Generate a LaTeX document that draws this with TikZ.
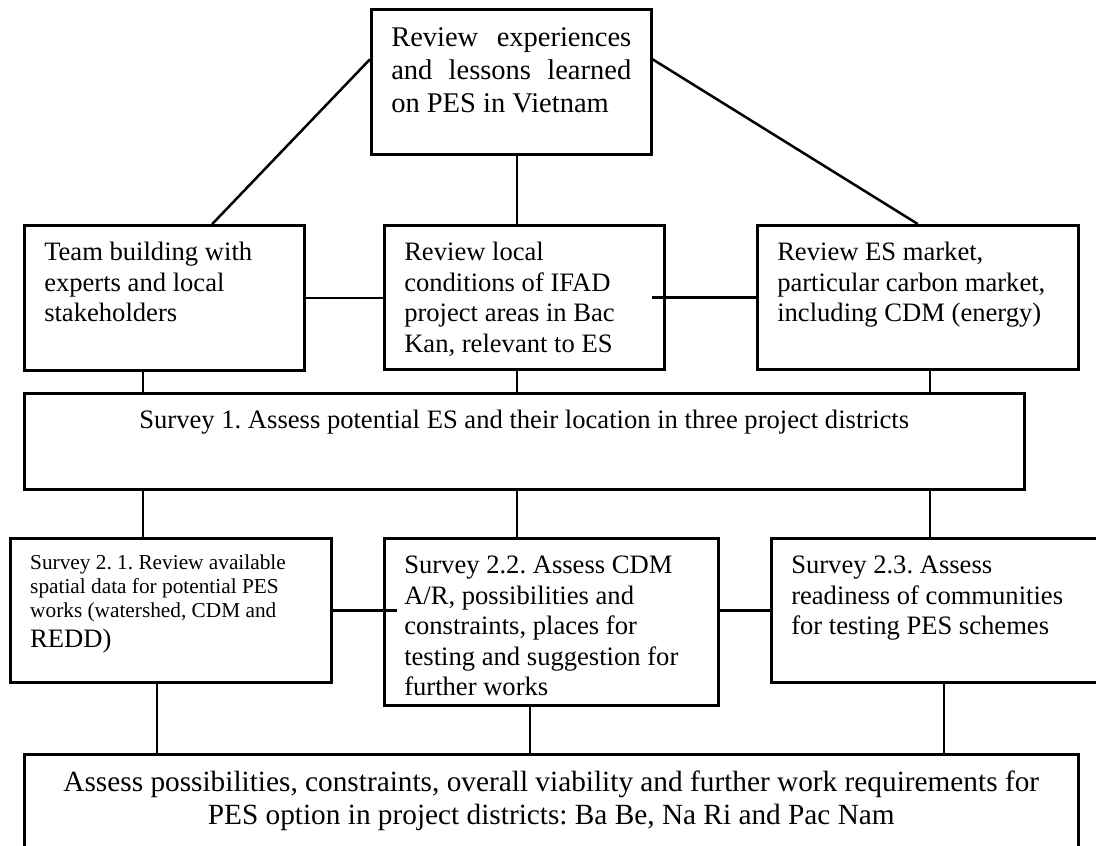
\documentclass[tikz,border=0pt]{standalone}
\usepackage{fontspec}
\setmainfont{Liberation Serif}
\frenchspacing
\newcommand{\boxtext}[3]{\parbox[c][#2][t]{#1}{\raggedright\strut #3}}
\begin{document}
\begin{tikzpicture}[x=1pt,y=-1pt,
    stage/.style={draw, line width=2.5pt, anchor=north west, inner xsep=20pt, inner ysep=14pt, font=\fontsize{26.6}{30.5}\selectfont},
    link/.style={line width=2.5pt}]
        \useasboundingbox (0,0) rectangle (1096,846);
        \clip (0,0) rectangle (1096,846);
        % top
        \node[stage, font=\fontsize{28.5}{33}\selectfont] (review) at (370,8) {\boxtext{240pt}{117pt}{\makebox[\linewidth][s]{Review experiences}\\ \makebox[\linewidth][s]{and lessons learned}\\ on PES in Vietnam}};
        % first row
        \node[stage] (team) at (23,224) {\boxtext{240pt}{117pt}{Team building with\\ experts and local\\ stakeholders}};
        \node[stage] (local) at (383,224) {\boxtext{240pt}{116pt}{Review local\\ conditions of IFAD\\ project areas in Bac\\ Kan, relevant to ES}};
        \node[stage] (market) at (756,224) {\boxtext{281pt}{116pt}{Review ES market,\\ particular carbon market,\\ including CDM (energy)}};
        \node[stage] (survey) at (23,392) {\boxtext{960pt}{68pt}{\centering Survey 1. Assess potential ES and their location in three project districts}};
        % second row
        \node[stage, font=\fontsize{21.3}{24}\selectfont] (spatial) at (9,537) {\boxtext{281pt}{116pt}{Survey 2. 1. Review available\\ spatial data for potential PES\\ works (watershed, CDM and\\[6pt] {\fontsize{26.6}{30.5}\selectfont REDD)}}};
        \node[stage] (cdm) at (383,537) {\boxtext{294pt}{139pt}{Survey 2.2. Assess CDM\\ A/R, possibilities and\\ constraints, places for\\ testing and suggestion for\\ further works}};
        \node[stage] (ready) at (770,537) {\boxtext{300pt}{116pt}{Survey 2.3. Assess\\ readiness of communities\\ for testing PES schemes}};
        \node[stage, font=\fontsize{29.3}{33}\selectfont] (assess) at (23,753) {\boxtext{1014pt}{92pt}{\centering Assess possibilities, constraints, overall viability and further work requirements for\\ PES option in project districts: Ba Be, Na Ri and Pac Nam}};
        % links
        \draw[link] ([yshift=22.5pt]review.west) -- ([xshift=48pt]team.north);
        \draw[link] ([yshift=22.5pt]review.east) -- (market.north);
        \draw[link] (team.east) -- (team.east -| local.west);
        \draw[link, shorten >=-14pt] (market.west) -- (market.west -| local.east);
        \draw[link, shorten <=-14pt] (spatial.east -| cdm.west) -- (spatial.east);
        \draw[link] (ready.west) -- (ready.west -| cdm.east);
        \foreach \up/\down/\x in {review/local/517, team/survey/143, local/survey/517, market/survey/930,
            survey/spatial/143, survey/cdm/517, survey/ready/930,
            spatial/assess/157, cdm/assess/530, ready/assess/944}
            \draw[link] (\up.south -| \x,0) -- (\down.north -| \x,0);
    \end{tikzpicture}
\end{document}
